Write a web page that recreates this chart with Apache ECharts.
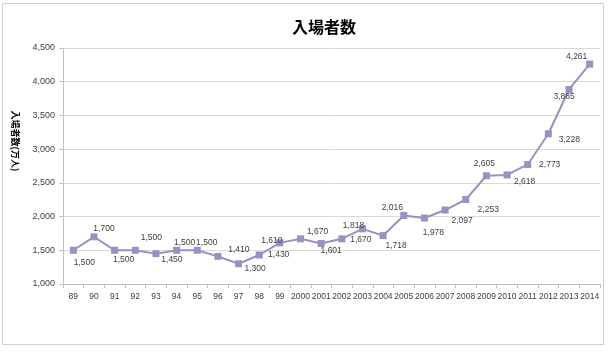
<!DOCTYPE html>
<html>
<head>
<meta charset="utf-8">
<script src="https://cdn.jsdelivr.net/npm/echarts@6/dist/echarts.min.js"></script>
<style>html,body{margin:0;padding:0;background:#fff;}#c{width:610px;height:352px;}</style>
</head>
<body>
<div id="c"></div>
<script>
const categories = ['89','90','91','92','93','94','95','96','97','98','99','2000','2001','2002','2003','2004','2005','2006','2007','2008','2009','2010','2011','2012','2013','2014'];
const visitors = [1500,1700,1500,1500,1450,1500,1500,1410,1300,1430,1610,1670,1601,1670,1818,1718,2016,1978,2097,2253,2605,2618,2773,3228,3885,4261];
const yTicks = {min:1000, max:4500, interval:500};
const titleText = '入場者数';
const yAxisTitle = '入場者数(万人)';

// label offsets (pixel layout only)
const labelOffsets = [[11,12],[10,-8],[9,9],[16,-13],[16,6],[8,-8],[9.5,-8],[21,-7],[16.5,5],[19.5,0],[-8,-2],[17,-7],[10,7],[19,1],[-9,-3],[13,10],[-11.5,-8],[9,15],[17,11],[22.5,10],[-2,-12],[17.5,7],[22,0],[21,6],[-5,7],[-13,-7.5]];

const fmt = v => v.toLocaleString('en-US');
const chart = echarts.init(document.getElementById('c'), null, {renderer:'canvas'});
const textColor = '#404040';
const lineColor = '#9d8fc2';
const numFont = 'Liberation Sans';

chart.setOption({
  animation:false,
  backgroundColor:'#fff',
  title:{text:titleText,left:287,top:14,textStyle:{fontFamily:'Noto Sans CJK JP',fontSize:16,fontWeight:'bold',color:'#000'}},
  grid:{left:63,right:10,top:48,bottom:68},
  graphic:[
    {type:'rect',shape:{x:2.5,y:3.5,width:601,height:341},style:{fill:'none',stroke:'#d0d0d0',lineWidth:1},silent:true},
    {type:'text',x:15,y:141,rotation:-Math.PI/2,style:{text:yAxisTitle,fontFamily:'Noto Sans CJK JP',fontSize:9,fontWeight:'bold',fill:'#000',align:'center',verticalAlign:'middle'}}
  ],
  xAxis:{type:'category',data:categories,boundaryGap:true,
    axisLine:{lineStyle:{color:'#bfbfbf'}},
    axisTick:{show:true,interval:0,length:4,lineStyle:{color:'#bfbfbf'}},
    axisLabel:{interval:0,color:textColor,fontFamily:numFont,fontSize:8.5,margin:8}},
  yAxis:{type:'value',min:yTicks.min,max:yTicks.max,interval:yTicks.interval,
    axisLine:{show:true,lineStyle:{color:'#bfbfbf'}},
    axisTick:{show:true,length:4,lineStyle:{color:'#bfbfbf'}},
    splitLine:{lineStyle:{color:'#d9d9d9'}},
    axisLabel:{color:textColor,fontFamily:numFont,fontSize:9,margin:8,formatter:fmt}},
  series:[{
    type:'line',
    data:visitors.map((v,i)=>({value:v,label:{offset:labelOffsets[i]}})),
    symbol:'rect',symbolSize:7,
    lineStyle:{color:lineColor,width:2},
    itemStyle:{color:lineColor},
    label:{show:true,position:'inside',align:'center',verticalAlign:'middle',color:textColor,fontFamily:numFont,fontSize:8.5,formatter:p=>fmt(p.value)}
  }]
});
</script>
</body>
</html>
